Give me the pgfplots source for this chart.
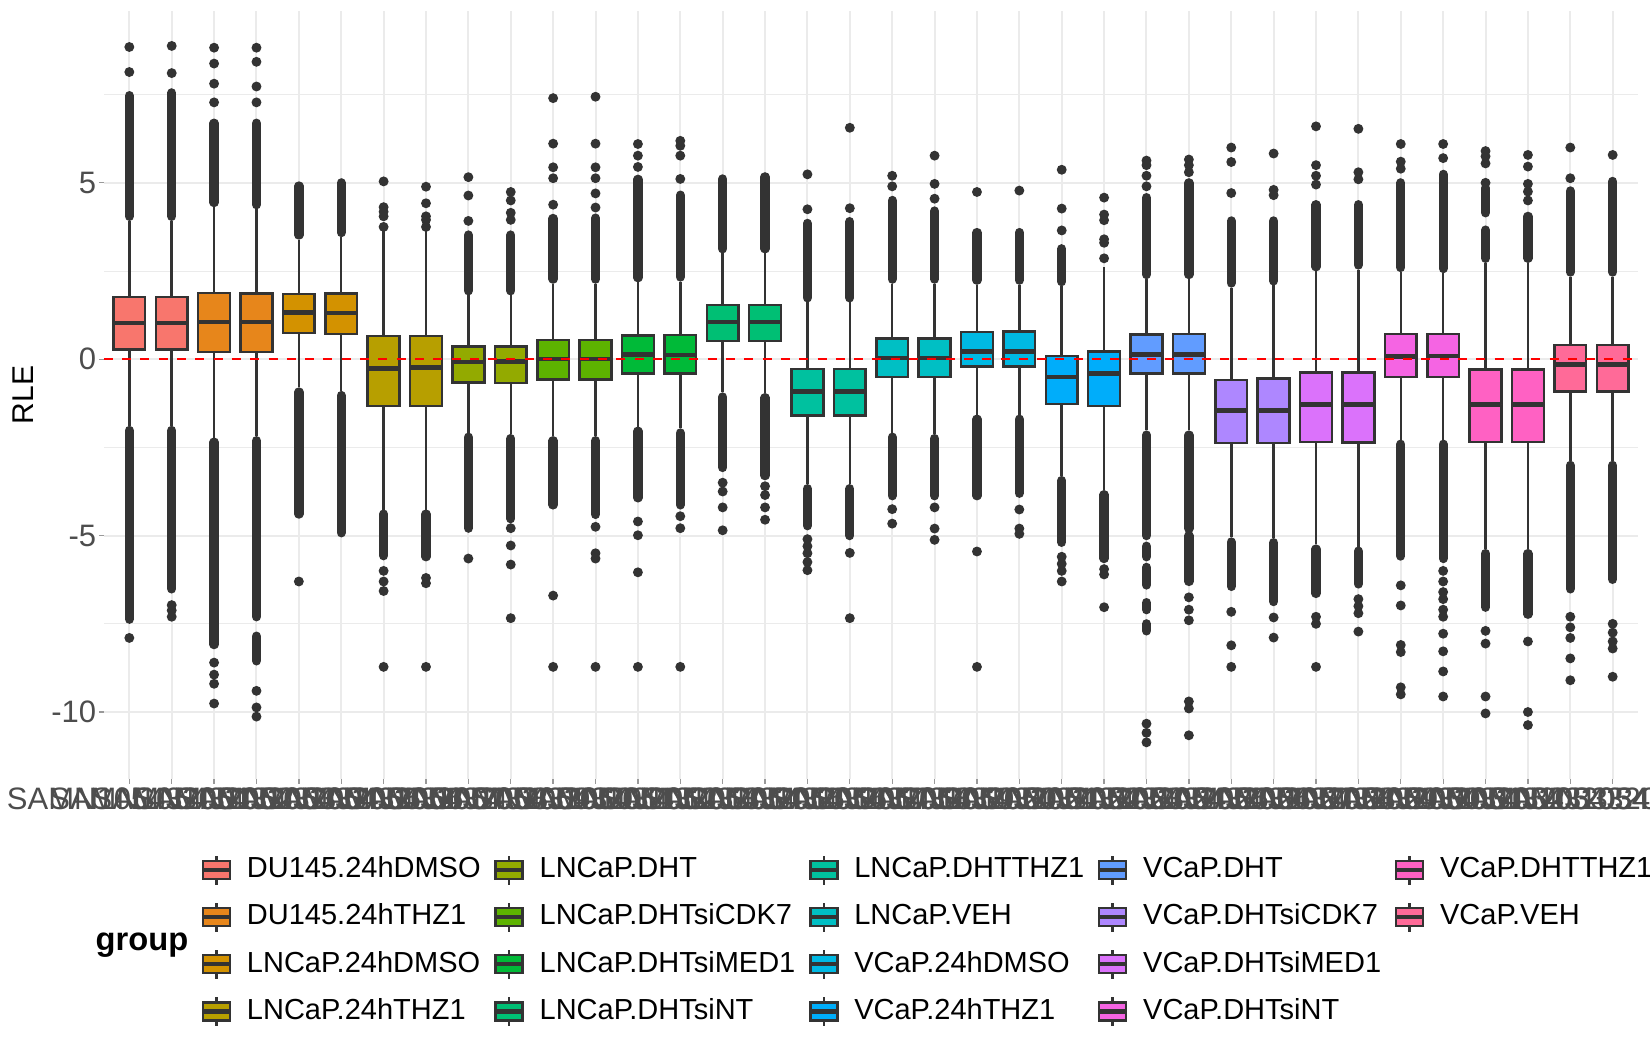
\documentclass[border=0pt]{standalone}
\usepackage{fontspec}
\setmainfont{Liberation Sans}
\usepackage{pgfplots}
\pgfplotsset{compat=1.18}
\usepgfplotslibrary{statistics}
\definecolor{c1}{HTML}{F8766D}
\definecolor{c2}{HTML}{E7861B}
\definecolor{c3}{HTML}{D39200}
\definecolor{c4}{HTML}{B79F00}
\definecolor{c5}{HTML}{93AA00}
\definecolor{c6}{HTML}{5DB300}
\definecolor{c7}{HTML}{00BA38}
\definecolor{c8}{HTML}{00BF74}
\definecolor{c9}{HTML}{00C19F}
\definecolor{c10}{HTML}{00BFC4}
\definecolor{c11}{HTML}{00B9E3}
\definecolor{c12}{HTML}{00ADFA}
\definecolor{c13}{HTML}{619CFF}
\definecolor{c14}{HTML}{AE87FF}
\definecolor{c15}{HTML}{DB72FB}
\definecolor{c16}{HTML}{F564E3}
\definecolor{c17}{HTML}{FF61C3}
\definecolor{c18}{HTML}{FF6A98}
\definecolor{c333}{HTML}{333333}
\definecolor{cgrid}{HTML}{EBEBEB}
\definecolor{ctick}{HTML}{999999}
\definecolor{ctext}{HTML}{4D4D4D}
\pgfplotsset{
  boxkey/.style={legend image code/.code={
    \path[draw=none, fill=none] (-0.45mm,-1.8mm) rectangle (3.15mm,1.8mm);
    \draw[##1, line width=0.25mm] (0mm,-0.9mm) rectangle (2.7mm,0.9mm);
    \draw[##1, fill=none, line width=0.45mm] (0mm,0mm) -- (2.7mm,0mm);
    \draw[##1, fill=none, line width=0.25mm] (1.35mm,0.9mm) -- (1.35mm,1.45mm) (1.35mm,-0.9mm) -- (1.35mm,-1.45mm);
  }}
}
\newcommand{\bx}[7]{%
  \addplot[boxplot prepared={draw position=#1, lower whisker=#3, lower quartile=#4, median=#5, upper quartile=#6, upper whisker=#7}, fill=#2, draw=c333, line width=0.25mm, forget plot] coordinates {};
}
\begin{document}
\begin{tikzpicture}
\useasboundingbox (0,0) rectangle (165mm,105mm);
\begin{axis}[
  at={(10.39mm,27.13mm)}, anchor=south west,
  scale only axis, width=153.42mm, height=76.77mm,
  xmin=0.4, xmax=36.6, ymin=-11.89, ymax=9.87,
  axis x line*=bottom, axis y line*=left,
  axis line style={draw=none},
  tick align=outside,
  major tick length=0.5mm, minor tick length=0mm,
  tick style={color=ctick, line width=0.13mm},
  xtick={1,...,36},
  xticklabels={SAMN105432001,SAMN105432002,SAMN105432003,SAMN105432004,SAMN105432005,SAMN105432006,SAMN105432007,SAMN105432008,SAMN105432009,SAMN105432010,SAMN105432011,SAMN105432012,SAMN105432013,SAMN105432014,SAMN105432015,SAMN105432016,SAMN105432017,SAMN105432018,SAMN105432019,SAMN105432020,SAMN105432021,SAMN105432022,SAMN105432023,SAMN105432024,SAMN105432025,SAMN105432026,SAMN105432027,SAMN105432028,SAMN105432029,SAMN105432030,SAMN105432031,SAMN105432032,SAMN105432033,SAMN105432034,SAMN105432035,SAMN105432036},
  ytick={-10,-5,0,5},
  yticklabels={-10,-5,0,5},
  minor ytick={-7.5,-2.5,2.5,7.5},
  xmajorgrids, ymajorgrids, yminorgrids,
  major grid style={color=cgrid, line width=0.2mm},
  minor grid style={color=cgrid, line width=0.1mm},
  tick label style={font=\fontsize{8.82pt}{10pt}\selectfont, text=ctext, inner sep=0pt},
  xticklabel style={anchor=north, yshift=-0.3mm},
  yticklabel style={anchor=east, xshift=-0.2mm},
  ylabel={RLE},
  ylabel style={at={(axis description cs:-0.0527,0.5)}, anchor=center, inner sep=0pt, font=\fontsize{8.54pt}{10pt}\selectfont, text=black},
  boxplot/draw direction=y,
  boxplot/box extend=0.75,
  boxplot/whisker extend=0,
  boxplot/every median/.style={line width=0.45mm},
  legend columns=5,
  legend cell align=left,
  legend style={at={(axis description cs:0.06166,-0.0955)}, anchor=north west, draw=none, fill=none, inner sep=0pt, outer sep=0pt, row sep=1.11mm, font=\fontsize{8.25pt}{9.8pt}\selectfont, nodes={inner sep=0pt}, /tikz/every odd column/.append style={column sep=1.25mm}, /tikz/every even column/.append style={column sep=1.05mm}},
]
\bx{1}{c1}{-1.89}{0.28}{1.02}{1.77}{3.92}
\bx{2}{c1}{-1.89}{0.28}{1.02}{1.76}{3.92}
\bx{3}{c2}{-2.22}{0.21}{1.06}{1.87}{4.31}
\bx{4}{c2}{-2.18}{0.21}{1.05}{1.86}{4.25}
\bx{5}{c3}{-0.80}{0.74}{1.32}{1.85}{3.39}
\bx{6}{c3}{-0.90}{0.71}{1.31}{1.86}{3.46}
\bx{7}{c4}{-4.26}{-1.33}{-0.26}{0.66}{3.65}
\bx{8}{c4}{-4.26}{-1.33}{-0.24}{0.66}{3.65}
\bx{9}{c5}{-2.08}{-0.66}{-0.08}{0.36}{1.81}
\bx{10}{c5}{-2.12}{-0.67}{-0.07}{0.36}{1.81}
\bx{11}{c6}{-2.18}{-0.57}{0.00}{0.55}{2.14}
\bx{12}{c6}{-2.18}{-0.57}{0.01}{0.55}{2.14}
\bx{13}{c7}{-1.91}{-0.40}{0.13}{0.67}{2.18}
\bx{14}{c7}{-1.96}{-0.40}{0.12}{0.69}{2.20}
\bx{15}{c8}{-0.94}{0.51}{1.06}{1.54}{3.00}
\bx{16}{c8}{-0.96}{0.51}{1.06}{1.54}{3.00}
\bx{17}{c9}{-3.54}{-1.60}{-0.92}{-0.28}{1.61}
\bx{18}{c9}{-3.54}{-1.60}{-0.92}{-0.28}{1.61}
\bx{19}{c10}{-2.08}{-0.51}{0.03}{0.59}{2.14}
\bx{20}{c10}{-2.12}{-0.51}{0.03}{0.59}{2.14}
\bx{21}{c11}{-1.57}{-0.20}{0.22}{0.77}{2.11}
\bx{22}{c11}{-1.57}{-0.20}{0.22}{0.78}{2.11}
\bx{23}{c12}{-3.31}{-1.27}{-0.50}{0.09}{2.07}
\bx{24}{c12}{-3.71}{-1.33}{-0.40}{0.22}{2.60}
\bx{25}{c13}{-2.02}{-0.40}{0.13}{0.70}{2.27}
\bx{26}{c13}{-2.02}{-0.40}{0.13}{0.72}{2.27}
\bx{27}{c14}{-5.05}{-2.37}{-1.46}{-0.59}{2.03}
\bx{28}{c14}{-5.07}{-2.37}{-1.46}{-0.55}{2.09}
\bx{29}{c15}{-5.25}{-2.34}{-1.29}{-0.37}{2.49}
\bx{30}{c15}{-5.31}{-2.36}{-1.29}{-0.37}{2.54}
\bx{31}{c16}{-2.28}{-0.51}{0.08}{0.71}{2.47}
\bx{32}{c16}{-2.28}{-0.51}{0.09}{0.71}{2.44}
\bx{33}{c17}{-5.38}{-2.35}{-1.29}{-0.29}{2.73}
\bx{34}{c17}{-5.38}{-2.35}{-1.29}{-0.29}{2.73}
\bx{35}{c18}{-2.88}{-0.91}{-0.15}{0.41}{2.34}
\bx{36}{c18}{-2.88}{-0.91}{-0.15}{0.41}{2.34}
% dense runs of outliers
\addplot[c333, line width=0.93mm, line cap=round, unbounded coords=jump, forget plot] coordinates {
(1,4.05) (1,7.47) (1,nan) (1,-2.02) (1,-7.37) (1,nan)
(2,4.05) (2,7.55) (2,nan) (2,-2.02) (2,-6.51) (2,nan)
(3,4.44) (3,6.69) (3,nan) (3,-2.35) (3,-8.09) (3,nan)
(4,4.38) (4,6.69) (4,nan) (4,-2.31) (4,-7.30) (4,nan) (4,-7.85) (4,-8.55) (4,nan)
(5,3.52) (5,4.91) (5,nan) (5,-0.93) (5,-4.39) (5,nan)
(6,3.59) (6,5.00) (6,nan) (6,-1.03) (6,-4.92) (6,nan)
(7,-4.39) (7,-5.57) (7,nan)
(8,-4.39) (8,-5.60) (8,nan)
(9,1.94) (9,3.52) (9,nan) (9,-2.21) (9,-4.79) (9,nan)
(10,1.94) (10,3.52) (10,nan) (10,-2.25) (10,-4.52) (10,nan)
(11,2.27) (11,3.99) (11,nan) (11,-2.31) (11,-4.13) (11,nan)
(12,2.27) (12,4.00) (12,nan) (12,-2.31) (12,-4.40) (12,nan)
(13,2.31) (13,5.10) (13,nan) (13,-2.04) (13,-3.93) (13,nan)
(14,2.33) (14,4.65) (14,nan) (14,-2.09) (14,-4.13) (14,nan)
(15,3.13) (15,5.11) (15,nan) (15,-1.07) (15,-3.07) (15,nan)
(16,3.13) (16,5.17) (16,nan) (16,-1.09) (16,-3.30) (16,nan)
(17,1.74) (17,3.85) (17,nan) (17,-3.67) (17,-4.72) (17,nan)
(18,1.74) (18,3.90) (18,nan) (18,-3.67) (18,-5.00) (18,nan)
(19,2.27) (19,4.50) (19,nan) (19,-2.21) (19,-3.87) (19,nan)
(20,2.27) (20,4.20) (20,nan) (20,-2.25) (20,-3.87) (20,nan)
(21,2.24) (21,3.59) (21,nan) (21,-1.70) (21,-3.87) (21,nan)
(22,2.24) (22,3.59) (22,nan) (22,-1.70) (22,-3.80) (22,nan)
(23,2.20) (23,3.13) (23,nan) (23,-3.44) (23,-5.19) (23,nan)
(24,-3.84) (24,-5.65) (24,nan)
(25,2.40) (25,4.58) (25,nan) (25,-2.15) (25,-5.00) (25,nan) (25,-5.30) (25,-5.60) (25,nan) (25,-5.90) (25,-6.40) (25,nan) (25,-6.90) (25,-7.10) (25,nan) (25,-7.50) (25,-7.70) (25,nan)
(26,2.40) (26,5.00) (26,nan) (26,-2.15) (26,-4.80) (26,nan) (26,-5.00) (26,-6.30) (26,nan)
(27,2.16) (27,3.92) (27,nan) (27,-5.18) (27,-6.44) (27,nan)
(28,2.22) (28,3.92) (28,nan) (28,-5.20) (28,-6.87) (28,nan)
(29,2.62) (29,4.38) (29,nan) (29,-5.38) (29,-6.64) (29,nan)
(30,2.67) (30,4.38) (30,nan) (30,-5.44) (30,-6.37) (30,nan)
(31,2.60) (31,5.00) (31,nan) (31,-2.41) (31,-5.58) (31,nan)
(32,2.57) (32,5.24) (32,nan) (32,-2.41) (32,-5.65) (32,nan)
(33,2.86) (33,3.66) (33,nan) (33,4.15) (33,4.85) (33,nan) (33,-5.51) (33,-7.03) (33,nan)
(34,2.86) (34,4.05) (34,nan) (34,-5.51) (34,-7.23) (34,nan)
(35,2.47) (35,4.77) (35,nan) (35,-3.01) (35,-6.51) (35,nan)
(36,2.47) (36,5.04) (36,nan) (36,-3.01) (36,-6.24)
};
% isolated outliers
\addplot[only marks, mark=*, mark size=0.42mm, c333, forget plot] coordinates {
(1,8.14) (1,8.85) (1,-7.9)
(2,8.11) (2,8.88) (2,-6.97) (2,-7.12) (2,-7.3)
(3,7.28) (3,7.81) (3,8.38) (3,8.83) (3,-8.6) (3,-8.94) (3,-9.2) (3,-9.76)
(4,7.28) (4,7.73) (4,8.43) (4,8.83) (4,-9.4) (4,-9.87) (4,-10.13)
(5,-6.3)
(7,3.75) (7,4.05) (7,4.18) (7,4.31) (7,5.04) (7,-6.0) (7,-6.3) (7,-6.57) (7,-8.72)
(8,3.75) (8,3.95) (8,4.05) (8,4.42) (8,4.89) (8,-6.2) (8,-6.35) (8,-8.72)
(9,3.92) (9,4.64) (9,5.16) (9,-5.65)
(10,3.95) (10,4.15) (10,4.5) (10,4.74) (10,-4.79) (10,-5.28) (10,-5.82) (10,-7.34)
(11,4.38) (11,5.13) (11,5.44) (11,6.11) (11,7.4) (11,-6.7) (11,-8.72)
(12,4.3) (12,4.7) (12,5.13) (12,5.44) (12,6.11) (12,7.44) (12,-4.75) (12,-5.5) (12,-5.65) (12,-8.72)
(13,5.45) (13,5.77) (13,6.1) (13,-4.6) (13,-4.99) (13,-6.04) (13,-8.72)
(14,5.11) (14,5.77) (14,6.05) (14,6.19) (14,-4.45) (14,-4.79) (14,-8.72)
(15,-3.5) (15,-3.75) (15,-4.2) (15,-4.85)
(16,-3.6) (16,-3.85) (16,-4.2) (16,-4.55)
(17,4.25) (17,5.24) (17,-5.1) (17,-5.3) (17,-5.5) (17,-5.75) (17,-5.98)
(18,4.28) (18,6.56) (18,-5.49) (18,-7.34)
(19,4.9) (19,5.2) (19,-4.25) (19,-4.66)
(20,4.55) (20,4.97) (20,5.77) (20,-4.2) (20,-4.8) (20,-5.12)
(21,4.74) (21,-5.45) (21,-8.72)
(22,4.78) (22,-4.26) (22,-4.8) (22,-4.95)
(23,3.65) (23,4.27) (23,5.37) (23,-5.6) (23,-5.8) (23,-6.0) (23,-6.3)
(24,2.86) (24,3.3) (24,3.4) (24,3.94) (24,4.1) (24,4.58) (24,-5.95) (24,-6.1) (24,-7.03)
(25,4.9) (25,5.2) (25,5.5) (25,5.63) (25,-10.33) (25,-10.59) (25,-10.86)
(26,5.3) (26,5.5) (26,5.66) (26,-6.75) (26,-7.1) (26,-7.4) (26,-9.7) (26,-9.9) (26,-10.66)
(27,4.71) (27,5.59) (27,6.0) (27,-7.16) (27,-8.11) (27,-8.72)
(28,4.65) (28,4.8) (28,5.83) (28,-7.32) (28,-7.89)
(29,4.95) (29,5.2) (29,5.5) (29,6.6) (29,-7.3) (29,-7.5) (29,-8.72)
(30,5.1) (30,5.3) (30,6.53) (30,-6.8) (30,-7.0) (30,-7.2) (30,-7.72)
(31,5.4) (31,5.6) (31,6.1) (31,-6.41) (31,-6.98) (31,-8.1) (31,-8.3) (31,-9.3) (31,-9.5)
(32,5.7) (32,6.1) (32,-6.0) (32,-6.3) (32,-6.6) (32,-6.8) (32,-7.1) (32,-7.3) (32,-7.78) (32,-8.28) (32,-8.85) (32,-9.56)
(33,5.0) (33,5.55) (33,5.75) (33,5.9) (33,-7.7) (33,-8.06) (33,-9.56) (33,-10.04)
(34,4.5) (34,4.75) (34,4.97) (34,5.46) (34,5.79) (34,-8.0) (34,-10.0) (34,-10.37)
(35,5.13) (35,6.0) (35,-7.3) (35,-7.6) (35,-7.9) (35,-8.48) (35,-9.1)
(36,5.79) (36,-7.5) (36,-7.75) (36,-8.0) (36,-8.2) (36,-9.0)
};
% reference line
\addplot[red, line width=0.2mm, dash pattern=on 0.9mm off 0.93mm, forget plot] coordinates {(0.4,0) (36.6,0)};
% legend (row-major order reproducing column-wise fill)
\addlegendimage{boxkey, fill=c1, draw=c333}\addlegendentry{DU145.24hDMSO}
\addlegendimage{boxkey, fill=c5, draw=c333}\addlegendentry{LNCaP.DHT}
\addlegendimage{boxkey, fill=c9, draw=c333}\addlegendentry{LNCaP.DHTTHZ1}
\addlegendimage{boxkey, fill=c13, draw=c333}\addlegendentry{VCaP.DHT}
\addlegendimage{boxkey, fill=c17, draw=c333}\addlegendentry{VCaP.DHTTHZ1}
\addlegendimage{boxkey, fill=c2, draw=c333}\addlegendentry{DU145.24hTHZ1}
\addlegendimage{boxkey, fill=c6, draw=c333}\addlegendentry{LNCaP.DHTsiCDK7}
\addlegendimage{boxkey, fill=c10, draw=c333}\addlegendentry{LNCaP.VEH}
\addlegendimage{boxkey, fill=c14, draw=c333}\addlegendentry{VCaP.DHTsiCDK7}
\addlegendimage{boxkey, fill=c18, draw=c333}\addlegendentry{VCaP.VEH}
\addlegendimage{boxkey, fill=c3, draw=c333}\addlegendentry{LNCaP.24hDMSO}
\addlegendimage{boxkey, fill=c7, draw=c333}\addlegendentry{LNCaP.DHTsiMED1}
\addlegendimage{boxkey, fill=c11, draw=c333}\addlegendentry{VCaP.24hDMSO}
\addlegendimage{boxkey, fill=c15, draw=c333}\addlegendentry{VCaP.DHTsiMED1}
\addlegendimage{empty legend}\addlegendentry{}
\addlegendimage{boxkey, fill=c4, draw=c333}\addlegendentry{LNCaP.24hTHZ1}
\addlegendimage{boxkey, fill=c8, draw=c333}\addlegendentry{LNCaP.DHTsiNT}
\addlegendimage{boxkey, fill=c12, draw=c333}\addlegendentry{VCaP.24hTHZ1}
\addlegendimage{boxkey, fill=c16, draw=c333}\addlegendentry{VCaP.DHTsiNT}
\end{axis}
\node[anchor=west, inner sep=0pt, font=\bfseries\fontsize{9.3pt}{11pt}\selectfont] at (9.5mm,10.5mm) {group};
\end{tikzpicture}
\end{document}
